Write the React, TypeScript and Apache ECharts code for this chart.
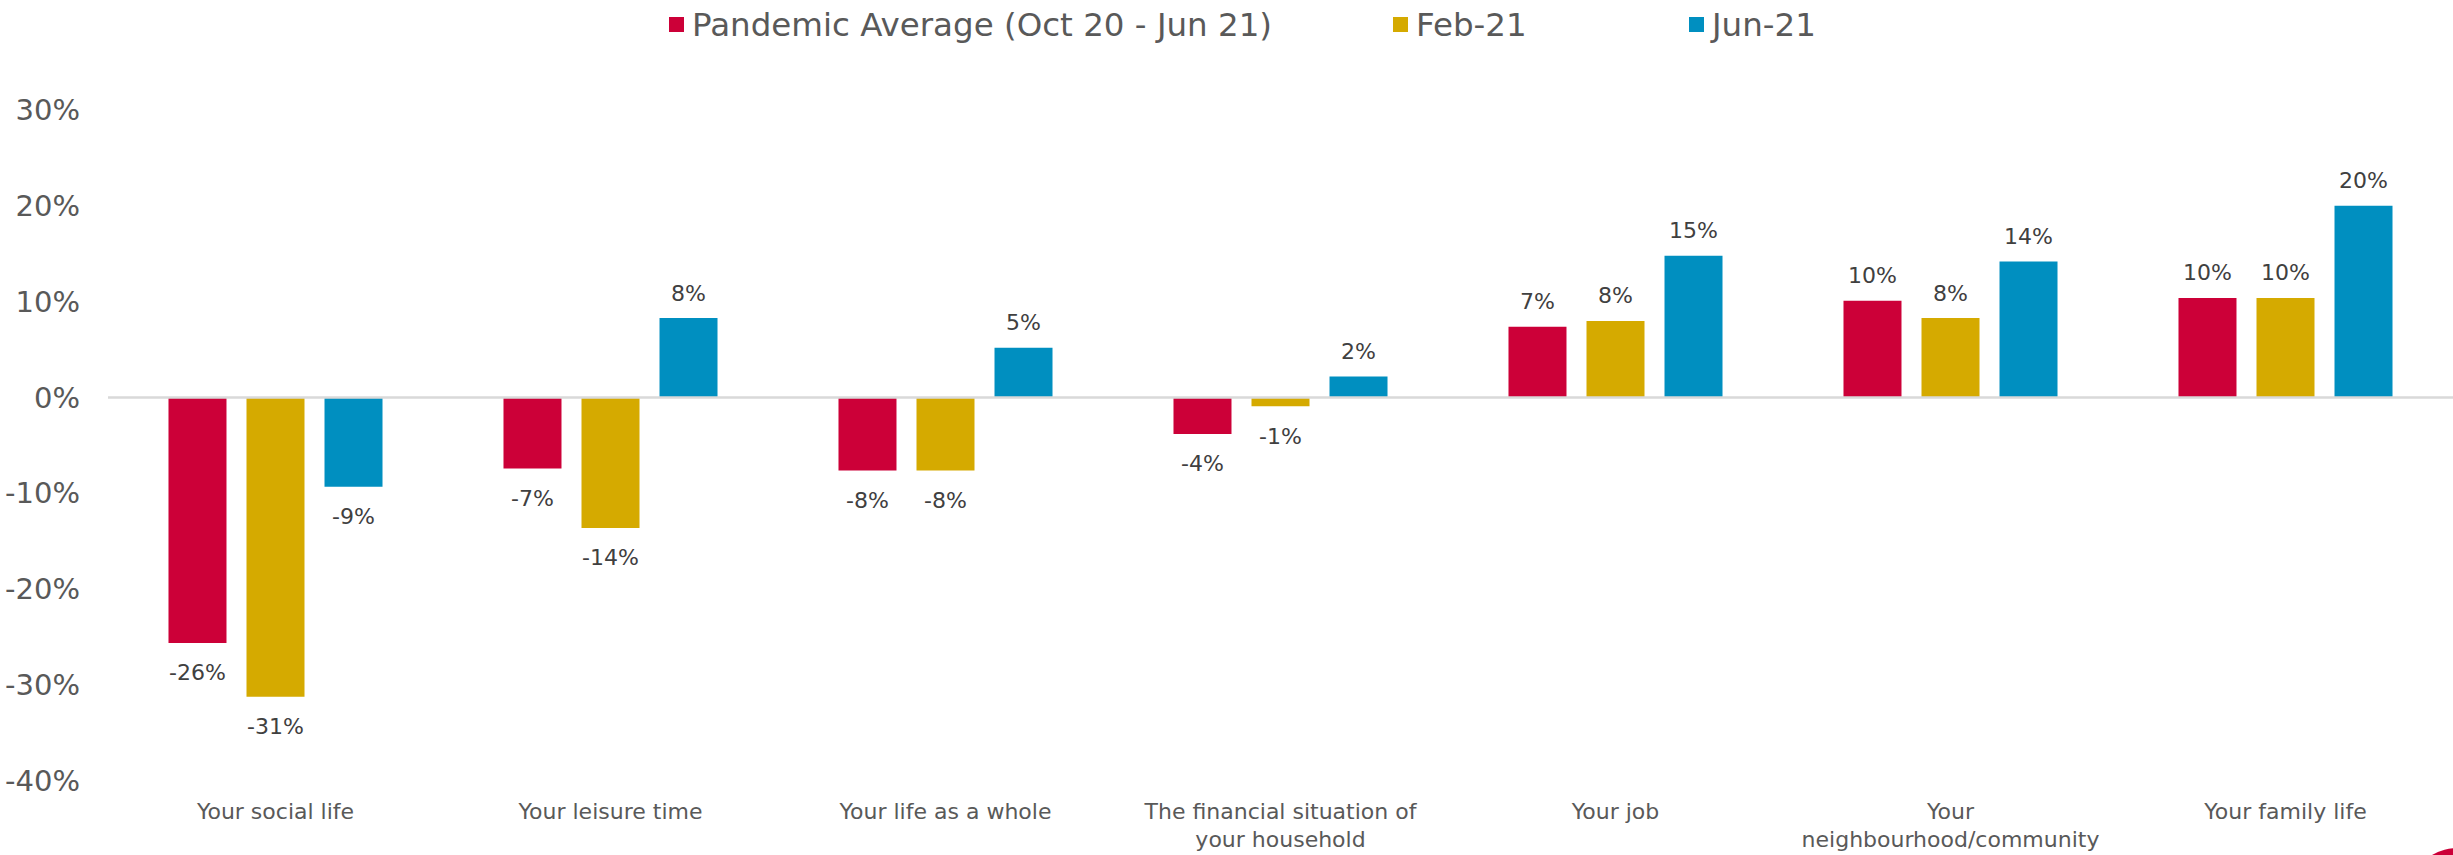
import React, { useEffect, useRef } from "react";
import * as echarts from "echarts";

const categories = [
  "Your social life",
  "Your leisure time",
  "Your life as a whole",
  "The financial situation of\nyour household",
  "Your job",
  "Your\nneighbourhood/community",
  "Your family life",
];
const seriesNames = ["Pandemic Average (Oct 20 - Jun 21)", "Feb-21", "Jun-21"];
const pandemicAvg = [-25.6, -7.4, -7.6, -3.8, 7.4, 10.1, 10.4];
const feb21 = [-31.2, -13.6, -7.6, -0.9, 8.0, 8.3, 10.4];
const jun21 = [-9.3, 8.3, 5.2, 2.2, 14.8, 14.2, 20.0];
const colors = ["#cc0038", "#d5aa00", "#008fc0"];
const yTicks = { min: -40, max: 30, interval: 10 };

const FONT = "'DejaVu Sans', sans-serif";

function makeData(vals: number[]) {
  return vals.map((v) => ({
    value: v,
    label: {
      position: v < 0 ? "bottom" : "top",
      distance: v < 0 ? 19 : 14,
    },
  }));
}

export default function App() {
  const ref = useRef<HTMLDivElement>(null);
  useEffect(() => {
    if (!ref.current) return;
    const chart = echarts.init(ref.current, null, { renderer: "svg" });
    const all = [pandemicAvg, feb21, jun21];
    const legendLefts = [664, 1388, 1684];
    chart.setOption({
      animation: false,
      backgroundColor: "#ffffff",
      textStyle: { fontFamily: FONT },
      legend: seriesNames.map((n, i) => ({
        data: [n],
        left: legendLefts[i],
        top: 3,
        icon: "rect",
        itemWidth: 15,
        itemHeight: 15,
        textStyle: { fontSize: 32.5, color: "#595959", fontFamily: FONT, padding: [0, 0, 0, 3] },
        selectedMode: false,
      })),
      grid: { left: 108, right: 0, top: 110, bottom: 74, containLabel: false },
      xAxis: {
        type: "category",
        data: categories,
        position: "bottom",
        axisLine: { show: false },
        axisTick: { show: false },
        axisLabel: {
          interval: 0,
          fontSize: 22,
          lineHeight: 28,
          color: "#595959",
          margin: 16,
          fontFamily: FONT,
        },
      },
      yAxis: {
        type: "value",
        min: yTicks.min,
        max: yTicks.max,
        interval: yTicks.interval,
        splitLine: { show: false },
        axisLine: { show: false },
        axisTick: { show: false },
        axisLabel: {
          formatter: "{value}%",
          fontSize: 29,
          color: "#595959",
          margin: 28,
          fontFamily: FONT,
        },
      },
      series: all.map((vals, i) => ({
        name: seriesNames[i],
        type: "bar",
        data: makeData(vals),
        barWidth: 58,
        barGap: "34.5%",
        itemStyle: { color: colors[i] },
        label: {
          show: true,
          fontSize: 22,
          color: "#404040",
          fontFamily: FONT,
          formatter: (p: any) => `${Math.round(p.value)}%`,
        },
        markLine:
          i === 0
            ? {
                silent: true,
                symbol: ["none", "none"],
                label: { show: false },
                lineStyle: { color: "#d9d9d9", width: 2.5, type: "solid" },
                data: [{ yAxis: 0 }],
              }
            : undefined,
      })),
      graphic: [
        {
          type: "circle",
          shape: { cx: 2458, cy: 900, r: 52 },
          style: { fill: "#cc0038" },
          silent: true,
        },
      ],
    });
    return () => chart.dispose();
  }, []);
  return (
    <div
      ref={ref}
      style={{ position: "absolute", left: 0, top: 0, width: 2453, height: 855 }}
    />
  );
}
